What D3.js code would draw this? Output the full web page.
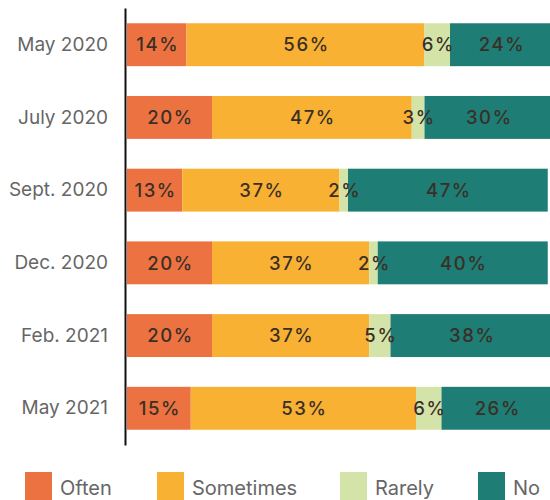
<!DOCTYPE html>
<html>
<head>
<meta charset="utf-8">
<script src="https://cdn.jsdelivr.net/npm/d3@7"></script>
<style>
  html, body { margin: 0; padding: 0; background: #fff; }
  svg { display: block; font-family: Inter, "Noto Sans", sans-serif; }
</style>
</head>
<body>
<svg id="chart" width="550" height="500"></svg>
<script>
// Survey waves (rows, top to bottom)
const waves = ["May 2020", "July 2020", "Sept. 2020", "Dec. 2020", "Feb. 2021", "May 2021"];
// Response categories (stack order, left to right)
const answers = ["Often", "Sometimes", "Rarely", "No"];
// Percentages per answer, one value per wave
const often     = [14, 20, 13, 20, 20, 15];
const sometimes = [56, 47, 37, 37, 37, 53];
const rarely    = [6, 3, 2, 2, 5, 6];
const no        = [24, 30, 47, 40, 38, 26];
const colors    = ["#ec7341", "#f8b133", "#d4e4a8", "#1e7d74"];

const rows = waves.map((w, i) => ({
  wave: w, Often: often[i], Sometimes: sometimes[i], Rarely: rarely[i], No: no[i]
}));

const svg = d3.select("#chart");
const x = d3.scaleLinear().domain([0, 100]).range([127, 552]);
const y = d3.scaleBand().domain(waves).range([8, 445]).paddingInner(0.41).paddingOuter(0.21);
const color = d3.scaleOrdinal().domain(answers).range(colors);

const stack = d3.stack().keys(answers)(rows);

const layer = svg.append("g").selectAll("g").data(stack).join("g")
  .attr("fill", d => color(d.key));

layer.selectAll("rect").data(d => d).join("rect")
  .attr("x", d => x(d[0]))
  .attr("y", d => y(d.data.wave))
  .attr("width", d => x(d[1]) - x(d[0]))
  .attr("height", y.bandwidth());

// Value labels centred on each segment
const labels = svg.append("g");
stack.forEach(s => {
  s.forEach(d => {
    labels.append("text")
      .attr("x", (x(d[0]) + x(d[1])) / 2 + 1)
      .attr("y", y(d.data.wave) + y.bandwidth() / 2)
      .attr("dy", "0.36em")
      .attr("text-anchor", "middle")
      .attr("font-size", 18.5)
      .attr("font-weight", 500)
      .attr("letter-spacing", "1.6px")
      .attr("fill", "#3a2f27")
      .text((d[1] - d[0]) + "%");
  });
});

// Category axis on the left
const axis = svg.append("g").attr("transform", "translate(125,0)")
  .call(d3.axisLeft(y).tickSize(0).tickPadding(17));
axis.select(".domain").attr("stroke", "#111").attr("stroke-width", 2);
axis.selectAll("text").attr("font-size", 19).attr("fill", "#666")
  .attr("font-family", "Inter, 'Noto Sans', sans-serif");

// Legend
const legendX = [25, 157, 340, 478];
const legend = svg.append("g").selectAll("g").data(answers).join("g")
  .attr("transform", (d, i) => `translate(${legendX[i]},472)`);
legend.append("rect").attr("width", 27).attr("height", 28).attr("fill", d => color(d));
legend.append("text").attr("x", 35).attr("y", 16).attr("dy", "0.36em")
  .attr("font-size", 20).attr("fill", "#666").text(d => d);
</script>
</body>
</html>
